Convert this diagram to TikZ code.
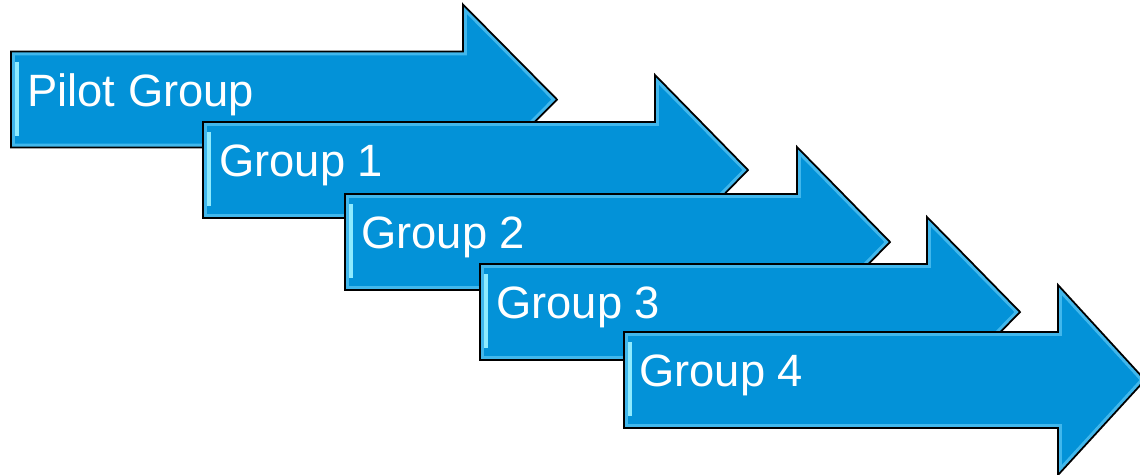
\documentclass[tikz,border=0pt]{standalone}
\usepackage{fontspec}
\setmainfont{Liberation Sans}
\usetikzlibrary{positioning}

\definecolor{arrowblue}{HTML}{0392D8}
\definecolor{bevelcyan}{HTML}{5CC8F5}
\definecolor{glintcyan}{HTML}{8EEBFF}

% outline of one arrow: left end, middle line, head base, tip
\newcommand{\grouparrowpath}[4]{(#1,#2-48) -- (#3,#2-48) -- (#3,#2-95) -- (#4,#2) -- (#3,#2+95) -- (#3,#2+48) -- (#1,#2+48) -- cycle}
\newcommand{\grouparrow}[4]{%
  \begin{scope}
    \clip \grouparrowpath{#1}{#2}{#3}{#4};
    \fill[arrowblue] \grouparrowpath{#1}{#2}{#3}{#4};
    \draw[bevel] \grouparrowpath{#1}{#2}{#3}{#4};
    \draw[glint] (#1+6,#2-38) -- (#1+6,#2+36);
  \end{scope}
  \draw[arrowline] \grouparrowpath{#1}{#2}{#3}{#4};}

\tikzset{
  bevel/.style={draw=bevelcyan,line width=4.5pt,opacity=0.7,line join=miter},
  glint/.style={draw=glintcyan,line width=2.4pt},
  arrowline/.style={draw=black,line width=1pt,line join=miter},
  grouplabel/.style={anchor=base west,inner sep=0pt,text=white,font=\fontsize{25.8}{30}\selectfont}
}

\begin{document}
\begin{tikzpicture}[x=0.02cm,y=-0.02cm]
\useasboundingbox (0,0) rectangle (1140,474);
\grouparrow{11}{99.5}{463}{557}
\node[grouplabel] (pilot) at (27,106) {Pilot Group};
\grouparrow{203}{170}{655}{748}
\node[grouplabel] (group1) at (219,176) {Group 1};
\grouparrow{345}{242}{797}{890}
\node[grouplabel] (group2) at (361,248) {Group 2};
\grouparrow{480}{312}{927}{1020}
\node[grouplabel] (group3) at (496,318) {Group 3};
\grouparrow{624}{380}{1058}{1145}
\node[grouplabel] (group4) at (639,386) {Group 4};
\end{tikzpicture}
\end{document}
